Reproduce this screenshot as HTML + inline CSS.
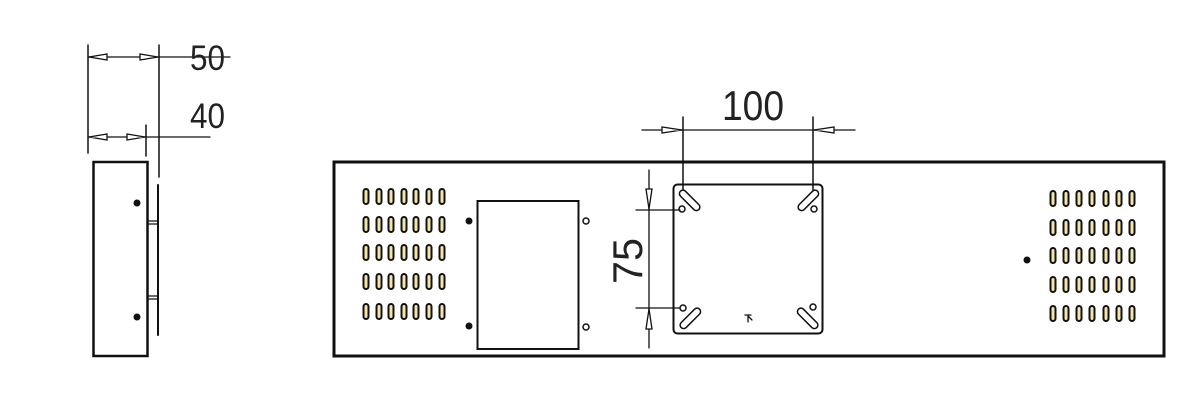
<!DOCTYPE html>
<html><head><meta charset="utf-8"><style>
html,body{margin:0;padding:0;background:#fff;width:1200px;height:414px;overflow:hidden}
svg{display:block}
text{font-family:"Liberation Sans",sans-serif;fill:#222}
</style></head><body>
<svg width="1200" height="414" viewBox="0 0 1200 414" xmlns="http://www.w3.org/2000/svg">
<g stroke="#111" fill="none" stroke-linecap="round">
<line x1="88" y1="45" x2="88" y2="153" stroke-width="1.5"/>
<line x1="159" y1="45" x2="159" y2="177" stroke-width="1.5"/>
<line x1="146" y1="125" x2="146" y2="156" stroke-width="1.5"/>
<line x1="88" y1="57" x2="230" y2="57" stroke-width="1.3"/>
<line x1="88" y1="137" x2="210" y2="137" stroke-width="1.3"/>
<rect x="93.5" y="162" width="54" height="194" stroke-width="2.5"/>
<line x1="158" y1="185" x2="158" y2="335" stroke-width="2"/>
<line x1="148" y1="221" x2="158" y2="221" stroke-width="1.3"/>
<line x1="148" y1="224" x2="158" y2="224" stroke-width="1.3"/>
<line x1="148" y1="296" x2="158" y2="296" stroke-width="1.3"/>
<line x1="148" y1="299" x2="158" y2="299" stroke-width="1.3"/>
<path d="M89 57 L107 54 L107 60 Z M158 57 L140 54 L140 60 Z M89 137 L107 134 L107 140 Z M145 137 L127 134 L127 140 Z" fill="#fff" stroke-width="1.3"/>
<rect x="334" y="162" width="830" height="194" stroke-width="3"/>
<rect x="477.5" y="201" width="101" height="148" stroke-width="2"/>
<circle cx="586" cy="221" r="3" stroke-width="1.5"/>
<circle cx="586" cy="327" r="3" stroke-width="1.5"/>
<rect x="673.5" y="184.5" width="149" height="149" rx="4" stroke-width="2"/>
<g stroke-width="1.5">
<rect x="677" y="197" width="26" height="7" rx="3.5" transform="rotate(45 690 200)"/>
<rect x="795" y="197" width="26" height="7" rx="3.5" transform="rotate(-45 808 200)"/>
<rect x="677" y="315" width="26" height="7" rx="3.5" transform="rotate(-45 690 318)"/>
<rect x="795" y="315" width="26" height="7" rx="3.5" transform="rotate(45 808 318)"/>
<circle cx="682" cy="209" r="3"/><circle cx="814" cy="209" r="3"/>
<circle cx="683" cy="308" r="3"/><circle cx="813" cy="307" r="3"/>
</g>
<path d="M745 315 L751 315 M748 315 L748 322 M748 316 L752 320" stroke-width="1.3"/>
<line x1="683" y1="117" x2="683" y2="190" stroke-width="1.5"/>
<line x1="813" y1="117" x2="813" y2="190" stroke-width="1.5"/>
<line x1="642" y1="130" x2="855" y2="130" stroke-width="1.3"/>
<path d="M682 130 L662 127 L662 133 Z M814 130 L834 127 L834 133 Z" fill="#fff" stroke-width="1.3"/>
<line x1="649" y1="170" x2="649" y2="348" stroke-width="1.3"/>
<line x1="636" y1="210" x2="680" y2="210" stroke-width="1.3"/>
<line x1="636" y1="308" x2="680" y2="308" stroke-width="1.3"/>
<path d="M649 209 L646 189 L652 189 Z M649 309 L646 329 L652 329 Z" fill="#fff" stroke-width="1.3"/>
</g>
<g fill="#111">
<circle cx="137" cy="203" r="3.5"/><circle cx="137" cy="317" r="3.5"/>
<circle cx="469" cy="221" r="3.5"/><circle cx="469" cy="326" r="3.5"/>
<circle cx="1027" cy="260" r="3.5"/>
</g>
<g fill="#f3e6a8" stroke="#111" stroke-width="2">
<g id="ls">
<rect x="363.5" y="189" width="5" height="15" rx="2.5"/><rect x="376.5" y="189" width="5" height="15" rx="2.5"/><rect x="388.5" y="189" width="5" height="15" rx="2.5"/><rect x="401.5" y="189" width="5" height="15" rx="2.5"/><rect x="413.5" y="189" width="5" height="15" rx="2.5"/><rect x="426.5" y="189" width="5" height="15" rx="2.5"/><rect x="439.5" y="189" width="5" height="15" rx="2.5"/>
</g>
<use href="#ls" y="28"/><use href="#ls" y="56"/><use href="#ls" y="85"/><use href="#ls" y="115"/>
<g id="rs">
<rect x="1050.5" y="191" width="5" height="15" rx="2.5"/><rect x="1063.5" y="191" width="5" height="15" rx="2.5"/><rect x="1076.5" y="191" width="5" height="15" rx="2.5"/><rect x="1089.5" y="191" width="5" height="15" rx="2.5"/><rect x="1103.5" y="191" width="5" height="15" rx="2.5"/><rect x="1116.5" y="191" width="5" height="15" rx="2.5"/><rect x="1129.5" y="191" width="5" height="15" rx="2.5"/>
</g>
<use href="#rs" y="29"/><use href="#rs" y="57"/><use href="#rs" y="86"/><use href="#rs" y="115"/>
</g>
<text x="190" y="70" font-size="35" textLength="35" lengthAdjust="spacingAndGlyphs">50</text>
<text x="190" y="128" font-size="35" textLength="35" lengthAdjust="spacingAndGlyphs">40</text>
<text x="722" y="120" font-size="42" textLength="62" lengthAdjust="spacingAndGlyphs">100</text>
<text transform="translate(642 284) rotate(-90)" font-size="42" textLength="46" lengthAdjust="spacingAndGlyphs">75</text>
</svg>
</body></html>
